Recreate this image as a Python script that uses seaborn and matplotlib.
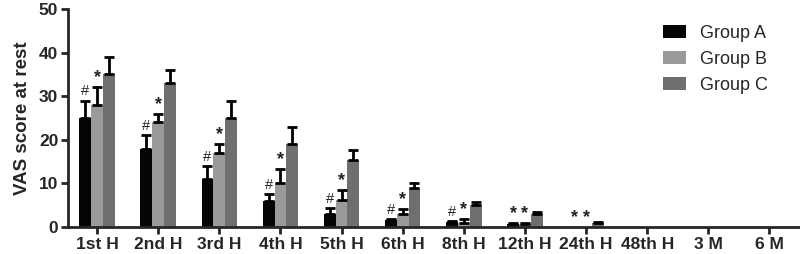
import numpy as np
import pandas as pd
import matplotlib
matplotlib.use("Agg")
import matplotlib.pyplot as plt
import seaborn as sns

categories = ["1st H", "2nd H", "3rd H", "4th H", "5th H", "6th H",
              "8th H", "12th H", "24th H", "48th H", "3 M", "6 M"]
groups = ["Group A", "Group B", "Group C"]

group_a = [25, 18, 11, 6, 3.0, 1.6, 1.1, 0.8, 0.1, 0, 0, 0]
group_b = [28, 24, 17, 10, 6.3, 3.0, 1.0, 0.6, 0.1, 0, 0, 0]
group_c = [35, 33, 25, 19, 15.4, 9.0, 5.0, 3.0, 0.9, 0, 0, 0]

err_a = [4, 3, 3, 1.5, 1.4, 0.3, 0.3, 0.2, 0, 0, 0, 0]
err_b = [4, 2, 2, 3.3, 2.3, 1.2, 0.8, 0.3, 0, 0, 0, 0]
err_c = [4, 3, 4, 4, 2.3, 1.2, 0.7, 0.4, 0.3, 0, 0, 0]

marks_a = ["#", "#", "#", "#", "#", "#", "#", "*", "*", "", "", ""]
marks_b = ["*", "*", "*", "*", "*", "*", "*", "*", "*", "", "", ""]

colors = ["#050505", "#9a9a9a", "#6f6f6f"]

df = pd.DataFrame({
    "time": categories * 3,
    "group": [g for g in groups for _ in categories],
    "vas": group_a + group_b + group_c,
})

sns.set_style("ticks")
plt.rcParams["font.family"] = ["Liberation Sans", "DejaVu Sans"]

fig = plt.figure(figsize=(8, 2.54), dpi=100)
ax = fig.add_axes([0.085, 0.106, 0.915, 0.859])

sns.barplot(data=df, x="time", y="vas", hue="group", order=categories,
            hue_order=groups, palette=colors, errorbar=None, width=0.58,
            saturation=1, ax=ax, linewidth=0)

bar_containers = list(ax.containers)[:3]
errs = [err_a, err_b, err_c]
vals = [group_a, group_b, group_c]
for gi, cont in enumerate(bar_containers):
    for ci, bar in enumerate(cont):
        if bar is None:
            continue
        xc = bar.get_x() + bar.get_width() / 2
        v = vals[gi][ci]
        e = errs[gi][ci]
        if e > 0:
            ax.errorbar(xc, v, yerr=[[0], [e]], fmt="none", ecolor="black",
                        elinewidth=2, capsize=3.5, capthick=2, zorder=3)
        top = v + e
        if gi == 0 and marks_a[ci]:
            if marks_a[ci] == "#":
                ax.text(xc, top + 0.5, "#", ha="center", va="bottom",
                        fontsize=10.5, color="#222222")
            else:
                ax.text(xc, top + 0.2, "*", ha="center", va="bottom",
                        fontsize=13, fontweight="bold", color="#222222")
        if gi == 1 and marks_b[ci]:
            ax.text(xc, top + 0.2, marks_b[ci], ha="center", va="bottom",
                    fontsize=13, fontweight="bold", color="#222222")

ax.set_xlim(-0.475, 11.5)
ax.set_ylim(0, 50)
ax.set_yticks([0, 10, 20, 30, 40, 50])
ax.set_xlabel("")
ax.set_ylabel("VAS score at rest", fontsize=13.5, fontweight="bold", labelpad=6)
for lab in ax.get_xticklabels() + ax.get_yticklabels():
    lab.set_fontweight("bold")
    lab.set_fontsize(12.5)
ax.tick_params(axis="both", width=2, length=5, direction="out", pad=2)
for s in ["left", "bottom"]:
    ax.spines[s].set_linewidth(2)
sns.despine(ax=ax)

leg = ax.legend(loc="upper left", bbox_to_anchor=(0.79, 1.0), frameon=False,
                fontsize=13, handlelength=1.3, handleheight=0.72,
                labelspacing=0.5, handletextpad=0.75)

fig.savefig("out.png", dpi=100)
